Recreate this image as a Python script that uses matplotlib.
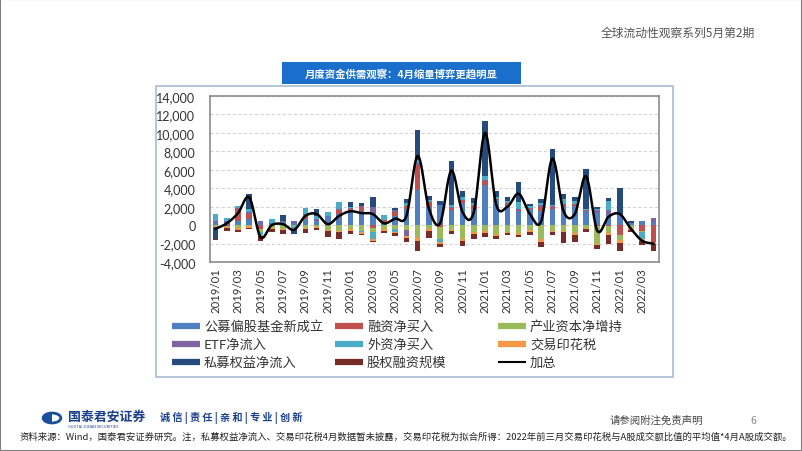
import numpy as np
import matplotlib.pyplot as plt
from matplotlib.lines import Line2D
from matplotlib.patches import Rectangle, Circle, Wedge

plt.rcParams['font.family'] = ['Noto Sans CJK SC', 'DejaVu Sans']

# 2019/01 - 2022/04, 单位：亿元
months = ['%d/%02d' % (y, m) for y in (2019, 2020, 2021, 2022) for m in range(1, 13)][:40]

gongmu = [200, 200, 500, 700, 200, 200, 300, 200, 700, 500, 1000, 1200, 1500, 1500, 1200, 300, 1000, 1700, 3800, 2000,
          2200, 1600, 2400, 1800, 4300, 2700, 2200, 1500, 1700, 1500, 1700, 2000, 2100, 1500, 1300, 1000, 1100, 200, 450, 300]
rongzi = [0, -100, 1300, 500, -400, 0, 0, 0, 300, 0, 0, 400, 300, 500, -300, 300, 400, 400, 2700, 500,
          -200, 300, 300, 300, 500, 100, 200, 100, 200, 500, 300, 200, 200, 100, -100, -100, -1100, 0, -600, -1800]
chanye = [-100, -100, -300, -150, -300, -300, -400, -100, -300, -200, -500, -600, -400, -600, -400, -400, -400, -500, -1300, -400,
          -1300, -500, -1500, -800, -600, -1000, -700, -900, -500, -1500, -600, -600, -900, -300, -1900, -800, -500, -300, -200, 0]
etf = [300, 200, 100, 200, 200, 0, 100, 300, 200, 200, 0, 200, 100, 100, 800, 0, 200, -700, 200, 0,
       0, 100, 0, 100, 100, 0, 0, 200, 0, 200, 100, 100, 0, 0, 300, 600, 0, 0, 0, 500]
waizi = [700, 400, 200, 300, -400, 500, 0, -200, 700, 300, 400, 700, 100, -200, -800, 500, -300, 300, 400, 200,
         -300, 200, 300, 200, 400, 300, 200, 700, 200, 200, 100, 500, 300, 200, 200, 1000, 0, 0, -700, 0]
yinhua = [-100, -100, -200, -150, -100, -100, -100, -100, -100, -100, -100, -100, -200, -200, -200, -200, -200, -200, -400, -200,
          -200, -100, -200, -200, -300, -200, -200, -200, -200, -300, -200, -200, -200, -100, -200, -200, -300, -200, -200, -300]
simu = [-1300, 0, 0, 1700, 0, 0, 700, -600, 0, 700, 0, 0, 500, 300, 1000, 0, 300, 400, 3200, 500,
        400, 4700, 700, 500, 6000, 600, 500, 2200, 200, 400, 6100, 600, 400, 4300, 200, 300, 2900, 200, 0, 0]
guquan = [-100, -300, -300, -100, -500, -300, -500, 0, -500, -200, -700, -800, -400, -100, -100, -300, -300, -400, -1100, -800,
          -400, -400, -600, -500, -400, -300, -200, -200, -400, -600, -300, -1100, -700, -400, -400, -900, -900, -300, -450, -700]

names = ['公募偏股基金新成立', '融资净买入', '产业资本净增持', 'ETF净流入',
         '外资净买入', '交易印花税', '私募权益净流入', '股权融资规模']
series = [gongmu, rongzi, chanye, etf, waizi, yinhua, simu, guquan]
colors = ['#4F7FC0', '#C0504D', '#9BBB59', '#8064A2', '#4BACC6', '#F79646', '#254A7C', '#772C2A']


def smooth(x, y, n=20):
    # excel style smoothed line (catmull-rom through the points)
    p = np.column_stack([x, y]).astype(float)
    p = np.vstack([p[0], p, p[-1]])
    out = []
    t = np.linspace(0, 1, n, endpoint=False)[:, None]
    for i in range(1, len(p) - 2):
        p0, p1, p2, p3 = p[i - 1], p[i], p[i + 1], p[i + 2]
        c1 = p1 + (p2 - p0) / 6
        c2 = p2 - (p3 - p1) / 6
        seg = (1 - t) ** 3 * p1 + 3 * (1 - t) ** 2 * t * c1 + 3 * (1 - t) * t ** 2 * c2 + t ** 3 * p2
        out.append(seg)
    out.append(p[-2][None, :])
    out = np.vstack(out)
    return out[:, 0], out[:, 1]


W, H = 802, 452
fig = plt.figure(figsize=(W / 100, H / 100), dpi=100)


def fx(px):
    return px / W


def fy(py):
    return 1 - py / H


# outer border and chart frame
fig.add_artist(Rectangle((0, 0), 1, 1, transform=fig.transFigure, fill=False, ec='#7f7f7f', lw=1.5))
fig.add_artist(Rectangle((fx(156), fy(378)), fx(673) - fx(156), fy(87) - fy(378), transform=fig.transFigure,
                         fill=False, ec='#a9bccf', lw=1.2))
fig.add_artist(Rectangle((fx(282), fy(85)), fx(521) - fx(282), fy(63) - fy(85), transform=fig.transFigure,
                         fc='#1a6fcc', ec='none'))
fig.text(fx(401.5), fy(74), '月度资金供需观察：4月缩量博弈更趋明显', color='white', fontsize=7.5,
         fontweight='bold', ha='center', va='center')
fig.text(fx(755), fy(33), '全球流动性观察系列5月第2期', color='#555555', fontsize=8.5, ha='right', va='center')

ax = fig.add_axes([fx(210), fy(263), fx(659) - fx(210), fy(97) - fy(263)])
x = np.arange(len(months))
pos = np.zeros(len(months))
neg = np.zeros(len(months))
for name, vals, c in zip(names, series, colors):
    v = np.array(vals, dtype=float)
    base = np.where(v >= 0, pos, neg)
    ax.bar(x, v, 0.5, bottom=base, color=c, zorder=2)
    pos = pos + np.where(v > 0, v, 0)
    neg = neg + np.where(v < 0, v, 0)

total = np.sum(np.array(series, dtype=float), axis=0)
sx, sy = smooth(x, total)
ax.plot(sx, sy, color='black', lw=1.8, zorder=3)

ax.set_xlim(-0.5, len(months) - 0.5)
ax.set_ylim(-4000, 14000)
ax.set_yticks(np.arange(-4000, 14001, 2000))
ax.yaxis.grid(True, ls=(0, (3, 2)), color='#d3d3d3', lw=0.8, zorder=0)
ax.set_xticks(x[::2])
ax.set_xticklabels(months[::2], rotation=90, fontsize=8.2, family='Lato', color='#333333')
ax.tick_params(length=0, pad=4)
ax.tick_params(axis='y', labelsize=9, pad=10.5, labelcolor='#333333')
ax.yaxis.set_major_formatter(plt.FuncFormatter(lambda v, p: '{:,.0f}'.format(v)))
for lab in ax.get_yticklabels():
    lab.set_family('Lato')
for s in ax.spines.values():
    s.set_color('#8c8c8c')
    s.set_linewidth(1.2)

# legend, three columns filled row by row
entries = names[:] + ['加总']
ecolors = colors[:] + ['black']
colx = [172, 335, 498]
rowy = [327, 345, 363]
for k, (lab, c) in enumerate(zip(entries, ecolors)):
    cx = colx[k % 3]
    cy = rowy[k // 3]
    lw = 1.5 if lab == '加总' else 4.5
    fig.add_artist(Line2D([fx(cx), fx(cx + 28)], [fy(cy), fy(cy)], transform=fig.transFigure,
                          color=c, lw=lw, solid_capstyle='butt'))
    fig.text(fx(cx + 32), fy(cy), lab, fontsize=9.5, va='center', ha='left', color='#333333')

# footer
fig.add_artist(Circle((fx(52), fy(419)), 0.011, transform=fig.transFigure, fc='white', ec='#1a4f9c', lw=2))
fig.add_artist(Wedge((fx(52), fy(419)), 0.011, 90, 270, transform=fig.transFigure, fc='#1a4f9c', ec='none'))
fig.text(fx(68), fy(417), '国泰君安证券', fontsize=9.3, fontweight='bold', color='#1a3f8c', va='center')
fig.text(fx(68), fy(427), 'GUOTAI JUNAN SECURITIES', fontsize=2.8, color='#1a3f8c', va='center')
fig.text(fx(160), fy(418), '诚 信 | 责 任 | 亲 和 | 专 业 | 创 新', fontsize=7.3, fontweight='bold',
         color='#1a3f8c', va='center')
fig.text(fx(610), fy(421), '请参阅附注免责声明', fontsize=7.5, color='#444444', va='center')
fig.text(fx(750), fy(421), '6', fontsize=7.5, color='#888888', va='center')
fig.text(fx(20), fy(437), '资料来源：Wind，国泰君安证券研究。注，私募权益净流入、交易印花税4月数据暂未披露，交易印花税为拟合所得：'
         '2022年前三月交易印花税与A股成交额比值的平均值*4月A股成交额。', fontsize=6.75, color='#222222', va='center')

fig.savefig('out.png', dpi=100)
